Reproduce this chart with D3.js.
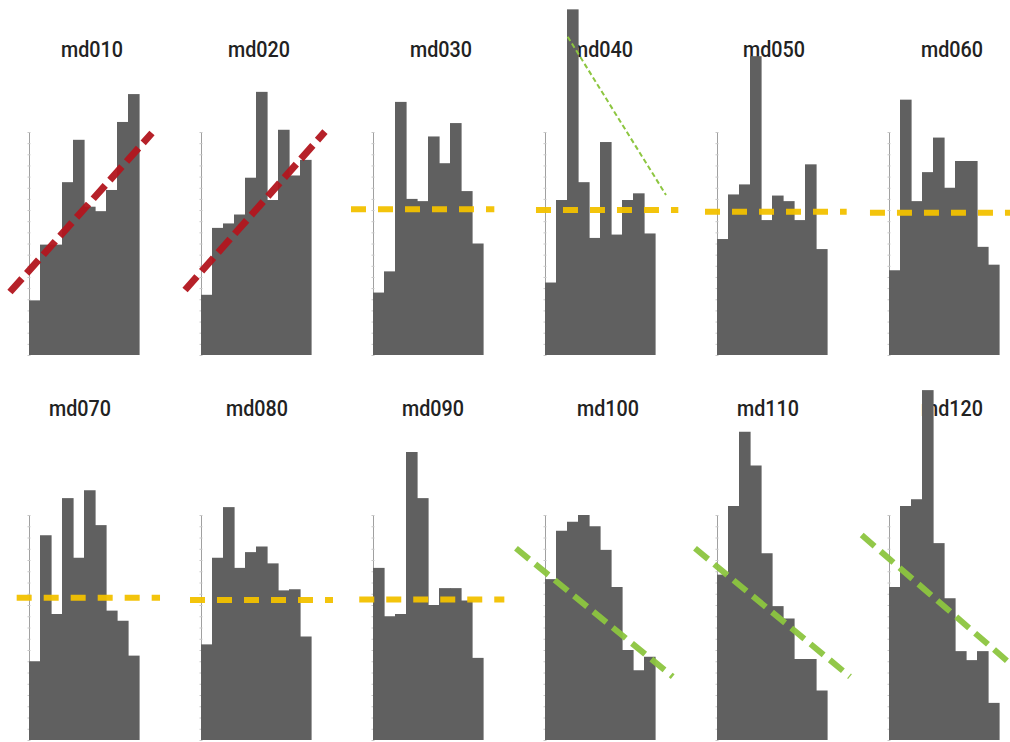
<!DOCTYPE html>
<html>
<head>
<meta charset="utf-8">
<script src="https://cdn.jsdelivr.net/npm/d3@7"></script>
<style>
  html, body { margin: 0; padding: 0; background: #fff; }
  svg { display: block; }
</style>
</head>
<body>
<svg id="chart" width="1010" height="742"></svg>
<script>
// ---------------- DATA ----------------
const panels = ["md010", "md020", "md030", "md040", "md050", "md060",
                "md070", "md080", "md090", "md100", "md110", "md120"];
const bins = [1, 2, 3, 4, 5, 6, 7, 8, 9, 10];
const yTicks = [0, 1, 2, 3, 4, 5, 6, 7, 8, 9, 10, 11, 12, 13, 14, 15, 16, 17, 18, 19, 20];

const md010 = [4.9, 9.9, 9.9, 15.5, 19.3, 13.3, 12.9, 14.8, 20.9, 23.4];
const md020 = [5.4, 11.4, 11.8, 12.6, 15.9, 23.6, 13.9, 20.2, 16.1, 17.5];
const md030 = [5.6, 7.5, 22.7, 14.0, 13.8, 19.6, 17.2, 20.8, 14.7, 10.0];
const md040 = [6.5, 13.9, 31.0, 15.5, 10.5, 19.1, 10.8, 13.9, 14.5, 10.9];
const md050 = [10.4, 14.4, 15.3, 26.8, 12.1, 14.3, 13.8, 12.1, 17.1, 9.5];
const md060 = [7.6, 22.9, 13.8, 16.4, 19.5, 15.0, 17.4, 17.4, 9.7, 8.1];
const md070 = [7.0, 18.2, 11.2, 21.5, 16.2, 22.2, 19.1, 11.5, 10.6, 7.5];
const md080 = [8.5, 16.2, 20.7, 15.3, 16.7, 17.2, 15.7, 13.3, 13.4, 9.2];
const md090 = [15.3, 11.0, 11.2, 25.6, 21.5, 12.0, 13.5, 13.5, 12.4, 7.3];
const md100 = [14.3, 18.6, 19.4, 20.0, 19.0, 16.9, 13.6, 8.0, 6.2, 7.4];
const md110 = [14.7, 20.8, 27.4, 24.4, 16.6, 11.9, 10.8, 7.2, 7.2, 4.4];
const md120 = [13.6, 20.8, 21.4, 31.1, 17.5, 12.6, 7.9, 7.1, 7.9, 3.3];
const seriesValues = [md010, md020, md030, md040, md050, md060,
                      md070, md080, md090, md100, md110, md120];

// trend kind per panel and trend segment [binStart, valueStart, binEnd, valueEnd]
const trendKind = ["up", "up", "flat", "flat", "flat", "flat",
                   "flat", "flat", "flat", "down", "down", "down"];
const trendLines = [
  [-1.73, 5.65, 11.18, 19.91],
  [-1.45, 5.83, 11.27, 20.03],
  [-2.00, 13.07, 11.03, 13.07],
  [-0.82, 13.00, 12.12, 13.00],
  [-1.09, 12.85, 11.79, 12.85],
  [-1.73, 12.76, 11.30, 12.76],
  [-1.12, 12.65, 11.91, 12.65],
  [-1.00, 12.44, 12.00, 12.44],
  [-1.25, 12.50, 11.94, 12.50],
  [-2.64, 17.04, 11.61, 5.63],
  [-2.00, 17.04, 12.09, 5.63],
  [-2.48, 18.22, 11.91, 6.04]
];
// secondary thin trend in md040
const md040Secondary = [2.06, 28.55, 11.0, 14.35];

// ---------------- LAYOUT / STYLE ----------------
const rowBase = [355, 740];
const rowAxisTop = [132, 515];
const titleBaseline = [56.5, 416];
const titleDx = [[63, 58, 68, 57, 57, 63], [51, 56, 60, 63, 51, 63]];
const plotW = 110;
const colStep = 172;
const firstAxisX = 29;

const trendStyle = {
  up:   { color: "#b3161e", width: 7, dash: "18,7" },
  flat: { color: "#f3c100", width: 6, dash: "15,12" },
  down: { color: "#8dc640", width: 6, dash: "17,8" }
};

const svg = d3.select("#chart");
const gTitles = svg.append("g");
const gAxes = svg.append("g");
const gBars = svg.append("g");
const gLines = svg.append("g");

panels.forEach((name, i) => {
  const col = i % 6, row = Math.floor(i / 6);
  const ax = firstAxisX + colStep * col;
  const x = d3.scaleBand().domain(bins).range([ax, ax + plotW]).padding(0);
  const xl = d3.scaleLinear().domain([0, 10]).range([ax, ax + plotW]);
  const y = d3.scaleLinear().domain([0, 20]).range([rowBase[row], rowAxisTop[row]]);

  // title
  gTitles.append("text")
    .attr("x", ax + titleDx[row][col])
    .attr("y", titleBaseline[row])
    .attr("text-anchor", "middle")
    .attr("textLength", 62)
    .attr("lengthAdjust", "spacingAndGlyphs")
    .style("font-family", "Roboto, 'Liberation Sans Narrow', 'DejaVu Sans', sans-serif")
    .style("font-weight", "500")
    .style("font-size", "21.5px")
    .style("fill", "#222")
    .text(name);

  // axis
  const axisG = gAxes.append("g")
    .attr("transform", `translate(${ax},0)`)
    .call(d3.axisLeft(y).tickValues(yTicks).tickSize(2).tickSizeOuter(0).tickFormat(""));
  axisG.select(".domain").attr("stroke", "#a0a0a0").attr("stroke-width", 1);
  axisG.selectAll(".tick line").attr("stroke", "#c8c8c8").attr("stroke-width", 1).attr("x2", 1.5).attr("x1", -1.5);

  // bars
  const vals = seriesValues[i];
  gBars.append("g").selectAll("rect")
    .data(bins.map((b, k) => ({ b, v: vals[k] })))
    .join("rect")
    .attr("x", d => x(d.b))
    .attr("width", x.bandwidth() + 0.6)
    .attr("y", d => y(d.v))
    .attr("height", d => y(0) - y(d.v))
    .attr("fill", "#606060");

  // trend line
  const t = trendLines[i];
  const st = trendStyle[trendKind[i]];
  gLines.append("line")
    .attr("x1", xl(t[0])).attr("y1", y(t[1]))
    .attr("x2", xl(t[2])).attr("y2", y(t[3]))
    .attr("stroke", st.color)
    .attr("stroke-width", st.width)
    .attr("stroke-dasharray", st.dash)
    .attr("opacity", 0.95);

  if (name === "md040") {
    const s = md040Secondary;
    gLines.append("line")
      .attr("x1", xl(s[0])).attr("y1", y(s[1]))
      .attr("x2", xl(s[2])).attr("y2", y(s[3]))
      .attr("stroke", "#8dc640")
      .attr("stroke-width", 2)
      .attr("stroke-dasharray", "5,3");
  }
});
</script>
</body>
</html>
